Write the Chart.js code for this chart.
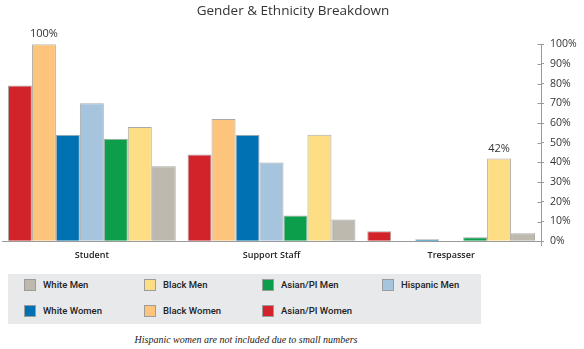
<!DOCTYPE html>
<html>
<head>
<meta charset="utf-8">
<title>Gender &amp; Ethnicity Breakdown</title>
<script src="https://cdn.jsdelivr.net/npm/chart.js@4.4.1/dist/chart.umd.min.js"></script>
<style>
  html, body { margin: 0; padding: 0; background: #fff; }
  #wrap { position: relative; width: 584px; height: 349px; overflow: hidden; font-family: "Open Sans", sans-serif; }
  #chartBox { position: absolute; left: 0; top: 0; width: 584px; height: 271px; }
  #legend { position: absolute; left: 8px; top: 274px; width: 473px; height: 50px; background: #e8e9eb; }
  .item { position: absolute; font-family: Roboto, sans-serif; font-size: 9.5px; font-weight: 500; color: #222; line-height: 12px; white-space: nowrap; }
  .sw { position: absolute; width: 12px; height: 12px; border: 1px solid #9c9c9c; box-sizing: border-box; }
  #note { position: absolute; left: 0; width: 492px; top: 334px; text-align: center;
          font-family: "Liberation Serif", serif; font-style: italic; font-size: 10px; color: #222; }
</style>
</head>
<body>
<div id="wrap">
  <div id="chartBox"><canvas id="chart"></canvas></div>
  <div id="legend"></div>
  <div id="note">Hispanic women are not included due to small numbers</div>
</div>
<script>
// Categories and per-group shares (percent)
const categories = ['Student', 'Support Staff', 'Trespasser'];

const asianPiWomen = [79, 44, 5];
const blackWomen   = [100, 62, 0];
const whiteWomen   = [54, 54, 1];
const hispanicMen  = [70, 40, 0];
const asianPiMen   = [52, 13, 2];
const blackMen     = [58, 54, 42];
const whiteMen     = [38, 11, 4];

const yTicks = [0, 10, 20, 30, 40, 50, 60, 70, 80, 90, 100];

// Series in bar order, left to right within each group
const series = [
  { name: 'Asian/PI Women', data: asianPiWomen, color: '#d2232a' },
  { name: 'Black Women',    data: blackWomen,   color: '#fdc57b' },
  { name: 'White Women',    data: whiteWomen,   color: '#0071b2' },
  { name: 'Hispanic Men',   data: hispanicMen,  color: '#a7c4de' },
  { name: 'Asian/PI Men',   data: asianPiMen,   color: '#0c9e4a' },
  { name: 'Black Men',      data: blackMen,     color: '#fede84' },
  { name: 'White Men',      data: whiteMen,     color: '#bdb9ae' }
];

// Legend layout: two rows of names
const legendRows = [
  ['White Men', 'Black Men', 'Asian/PI Men', 'Hispanic Men'],
  ['White Women', 'Black Women', 'Asian/PI Women']
];

// Bars whose value is printed above them
const valueLabels = [
  { name: 'Black Women', category: 'Student' },
  { name: 'Black Men', category: 'Trespasser' }
];

const AXIS_GRAY = '#9a9a9a';
const TEXT = '#333';

// Build the HTML legend
(function buildLegend() {
  const box = document.getElementById('legend');
  const colX = [16, 136, 254, 374];
  const rowY = [5, 31];
  legendRows.forEach((row, r) => {
    row.forEach((name, c) => {
      const s = series.find(d => d.name === name);
      const sw = document.createElement('div');
      sw.className = 'sw';
      sw.style.left = colX[c] + 'px';
      sw.style.top = rowY[r] + 'px';
      sw.style.background = s.color;
      box.appendChild(sw);
      const t = document.createElement('div');
      t.className = 'item';
      t.textContent = name;
      t.style.left = (colX[c] + 19) + 'px';
      t.style.top = rowY[r] + 'px';
      box.appendChild(t);
    });
  });
})();

// Small stubs on the inner side of the value axis, and the axis running a bit below zero
const axisExtras = {
  id: 'axisExtras',
  afterDraw(chart) {
    const { ctx, chartArea } = chart;
    const y = chart.scales.y;
    const x0 = chartArea.right;
    ctx.save();
    ctx.strokeStyle = AXIS_GRAY;
    ctx.lineWidth = 1;
    ctx.beginPath();
    yTicks.forEach(v => {
      const py = Math.round(y.getPixelForValue(v)) + 0.5;
      ctx.moveTo(x0 - 3.5, py);
      ctx.lineTo(x0, py);
    });
    const yb = y.getPixelForValue(0);
    ctx.moveTo(Math.round(x0) + 0.5, yb);
    ctx.lineTo(Math.round(x0) + 0.5, yb + 5);
    ctx.stroke();
    ctx.restore();
  }
};

// Value text above selected bars
const barValues = {
  id: 'barValues',
  afterDatasetsDraw(chart) {
    const { ctx } = chart;
    ctx.save();
    ctx.font = '11px "Open Sans", sans-serif';
    ctx.fillStyle = TEXT;
    ctx.textAlign = 'center';
    ctx.textBaseline = 'middle';
    valueLabels.forEach(l => {
      const di = series.findIndex(s => s.name === l.name);
      const ci = categories.indexOf(l.category);
      const bar = chart.getDatasetMeta(di).data[ci];
      ctx.fillText(series[di].data[ci] + '%', bar.x, bar.y - 10);
    });
    ctx.restore();
  }
};

new Chart(document.getElementById('chart'), {
  type: 'bar',
  data: {
    labels: categories,
    datasets: series.map(s => ({
      label: s.name,
      data: s.data,
      backgroundColor: s.color,
      borderColor: '#a9a9a9',
      borderWidth: 1,
      borderSkipped: 'bottom',
      categoryPercentage: 0.934,
      barPercentage: 1.0
    }))
  },
  options: {
    responsive: true,
    maintainAspectRatio: false,
    animation: false,
    layout: { padding: { left: 2, right: 0, top: 0, bottom: 1 } },
    plugins: {
      legend: { display: false },
      tooltip: { enabled: false },
      title: {
        display: true,
        text: 'Gender & Ethnicity Breakdown',
        color: TEXT,
        font: { family: '"Open Sans", sans-serif', size: 13.5, weight: 'normal' },
        padding: { top: 3, bottom: 25 }
      }
    },
    scales: {
      x: {
        grid: { display: false, drawTicks: false },
        border: { display: true, color: AXIS_GRAY, width: 1 },
        ticks: {
          color: '#222',
          padding: 9,
          font: { family: '"Open Sans", sans-serif', size: 9, weight: '600' }
        }
      },
      y: {
        position: 'right',
        min: 0,
        max: 100,
        afterFit(scale) { scale.width = 43; },
        afterBuildTicks(scale) { scale.ticks = yTicks.map(v => ({ value: v })); },
        grid: { drawOnChartArea: false, drawTicks: true, tickLength: 3, color: AXIS_GRAY },
        border: { display: true, color: AXIS_GRAY, width: 1 },
        ticks: {
          color: TEXT,
          padding: 6,
          font: { family: '"Open Sans", sans-serif', size: 10.5 },
          callback: v => v + '%'
        }
      }
    }
  },
  plugins: [axisExtras, barValues]
});
</script>
</body>
</html>
